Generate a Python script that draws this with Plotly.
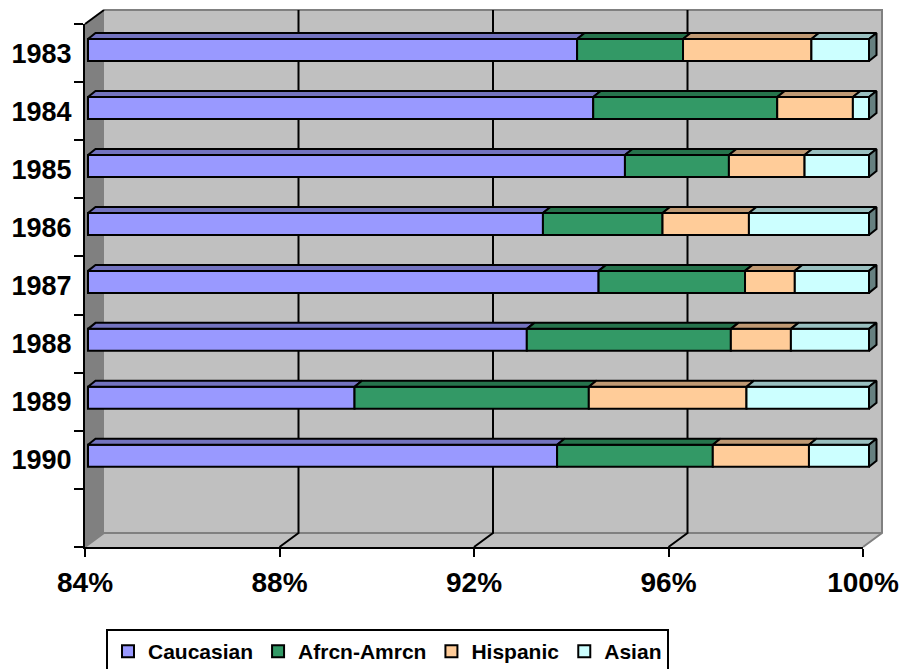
import plotly.graph_objects as go

# ---- data: share of each group per year (percent of total) ----
years = ["1983", "1984", "1985", "1986", "1987", "1988", "1989", "1990"]
caucasian = [94.02, 94.35, 95.00, 93.32, 94.46, 92.99, 89.46, 93.61]
afrcn_amrcn = [2.17, 3.77, 2.13, 2.45, 3.00, 4.18, 4.80, 3.19]
hispanic = [2.63, 1.55, 1.55, 1.77, 1.02, 1.23, 3.23, 1.97]
asian = [1.18, 0.33, 1.32, 2.46, 1.52, 1.60, 2.51, 1.23]

series_names = ["Caucasian", "Afrcn-Amrcn", "Hispanic", "Asian"]
x_ticks = [84, 88, 92, 96, 100]
x_tick_labels = ["84%", "88%", "92%", "96%", "100%"]
X_MIN, X_MAX = 84, 100

# ---- styling ----
FRONT_COLORS = ["#9999FF", "#339966", "#FFCC99", "#CCFFFF"]
TOP_COLORS = ["#7373BF", "#26734C", "#BF9973", "#99BFBF"]
SIDE_COLOR = "#668080"
WALL = "#C0C0C0"
SIDE_WALL = "#808080"
EDGE = "#808080"
FONT = "Arial, 'Liberation Sans', sans-serif"

W, H = 905, 669
# front plane of the chart box (pixels)
FL, FR, FT, FB = 85, 863, 24, 547
DEPTH_DX, DEPTH_DY = 19, 14
N_SLOTS = len(years) + 1
# bar plane
BL, BR = 88, 869
BAR_C0, BAR_STEP, BAR_H = 50, 57.97, 22
BAR_DX, BAR_DY = 7.5, 6

sx = (FR - FL) / (X_MAX - X_MIN)
sy = (FB - FT) / N_SLOTS
bx = (BR - BL) / (X_MAX - X_MIN)


def P(v, s, d):
    """Project a value/slot at depth d (0 front, 1 back) to the box axes."""
    return v + d * DEPTH_DX / sx, s - d * DEPTH_DY / sy


def poly(points):
    xs = [p[0] for p in points] + [points[0][0]]
    ys = [p[1] for p in points] + [points[0][1]]
    return xs, ys


fig = go.Figure()

# ---- walls and floor ----
walls = [
    ([P(X_MIN, 0, 0), P(X_MIN, 0, 1), P(X_MIN, N_SLOTS, 1), P(X_MIN, N_SLOTS, 0)], SIDE_WALL),
    ([P(X_MIN, 0, 1), P(X_MAX, 0, 1), P(X_MAX, N_SLOTS, 1), P(X_MIN, N_SLOTS, 1)], WALL),
    ([P(X_MIN, N_SLOTS, 0), P(X_MAX, N_SLOTS, 0), P(X_MAX, N_SLOTS, 1), P(X_MIN, N_SLOTS, 1)], WALL),
]
for pts, col in walls:
    xs, ys = poly(pts)
    fig.add_trace(go.Scatter(x=xs, y=ys, mode="lines", fill="toself", fillcolor=col,
                             line=dict(width=0, color=col), hoverinfo="skip",
                             showlegend=False, xaxis="x", yaxis="y"))


def edge(points, color, width=2):
    fig.add_trace(go.Scatter(x=[p[0] for p in points], y=[p[1] for p in points],
                             mode="lines", line=dict(color=color, width=width),
                             hoverinfo="skip", showlegend=False, xaxis="x", yaxis="y"))


# wall outlines
edge([P(X_MIN, 0, 1), P(X_MAX, 0, 1), P(X_MAX, N_SLOTS, 1), P(X_MAX, N_SLOTS, 0)], EDGE)
edge([P(X_MIN, N_SLOTS, 0), P(X_MIN, N_SLOTS, 1), P(X_MAX, N_SLOTS, 1)], EDGE)
edge([P(X_MIN, 0, 0), P(X_MIN, 0, 1)], "black")

# gridlines up the back wall and across the floor
for v in x_ticks[1:-1]:
    edge([P(v, 0, 1), P(v, N_SLOTS, 1), P(v, N_SLOTS, 0)], "black")

# ---- bars (front faces) ----
segments = [caucasian, afrcn_amrcn, hispanic, asian]
idx = list(range(len(years)))
starts = []
ends = []
for k, seg in enumerate(segments):
    if k == 0:
        s0 = [X_MIN] * len(years)
        e0 = list(seg)
    else:
        s0 = list(ends[-1])
        e0 = [a + b for a, b in zip(s0, seg)]
    starts.append(s0)
    ends.append(e0)

bar_w = BAR_H / BAR_STEP
ddx = BAR_DX / bx
ddy = BAR_DY / BAR_STEP

for k, name in enumerate(series_names):
    fig.add_trace(go.Bar(
        name=name, orientation="h", y=idx,
        x=[e - s for s, e in zip(starts[k], ends[k])], base=starts[k],
        width=bar_w, marker=dict(color=FRONT_COLORS[k], line=dict(color="black", width=2)),
        xaxis="x3", yaxis="y3", hoverinfo="skip"))

# top faces of every segment
for k in range(len(series_names)):
    for i in idx:
        x0, x1 = starts[k][i], ends[k][i]
        yt = i - bar_w / 2
        xs, ys = poly([(x0, yt), (x1, yt), (x1 + ddx, yt - ddy), (x0 + ddx, yt - ddy)])
        fig.add_trace(go.Scatter(x=xs, y=ys, mode="lines", fill="toself",
                                 fillcolor=TOP_COLORS[k], line=dict(color="black", width=2),
                                 hoverinfo="skip", showlegend=False, xaxis="x3", yaxis="y3"))

# right-hand end faces
for i in idx:
    xe = ends[-1][i]
    yt, yb = i - bar_w / 2, i + bar_w / 2
    xs, ys = poly([(xe, yt), (xe + ddx, yt - ddy), (xe + ddx, yb - ddy), (xe, yb)])
    fig.add_trace(go.Scatter(x=xs, y=ys, mode="lines", fill="toself", fillcolor=SIDE_COLOR,
                             line=dict(color="black", width=2), hoverinfo="skip",
                             showlegend=False, xaxis="x3", yaxis="y3"))

# anchor trace for the front axes
fig.add_trace(go.Scatter(x=[], y=[], xaxis="x2", yaxis="y2", showlegend=False, hoverinfo="skip"))

hidden = dict(visible=False, showgrid=False, zeroline=False, domain=[0, 1])

fig.update_layout(
    width=W, height=H,
    margin=dict(l=0, r=0, t=0, b=0, pad=0, autoexpand=False),
    paper_bgcolor="white", plot_bgcolor="rgba(0,0,0,0)",
    barmode="overlay",
    font=dict(family=FONT, color="black"),
    xaxis=dict(**hidden, range=[X_MIN - FL / sx, X_MIN + (W - FL) / sx]),
    yaxis=dict(**hidden, range=[(H - FT) / sy, -FT / sy]),
    xaxis3=dict(visible=False, showgrid=False, zeroline=False, overlaying="x",
                range=[X_MIN - BL / bx, X_MIN + (W - BL) / bx]),
    yaxis3=dict(visible=False, showgrid=False, zeroline=False, overlaying="y",
                range=[(H - BAR_C0) / BAR_STEP, -BAR_C0 / BAR_STEP]),
    xaxis2=dict(domain=[FL / W, FR / W], range=[X_MIN, X_MAX], anchor="y2",
                showgrid=False, zeroline=False, showline=True, linecolor="black", linewidth=2,
                ticks="outside", ticklen=8, tickwidth=2, tickcolor="black",
                tickvals=x_ticks, ticktext=x_tick_labels, ticklabelstandoff=1,
                tickfont=dict(size=28, weight="bold", family=FONT)),
    yaxis2=dict(domain=[(H - FB) / H, (H - FT) / H], range=[N_SLOTS, 0], anchor="x2",
                showgrid=False, zeroline=False, showline=True, linecolor="black", linewidth=2,
                ticks="", tickvals=[i + 0.5 for i in idx], ticktext=years,
                ticklabelstandoff=6,
                minor=dict(tickvals=list(range(N_SLOTS + 1)), ticks="outside", ticklen=9,
                           tickwidth=2, tickcolor="black", showgrid=False),
                tickfont=dict(size=27, weight="bold", family=FONT)),
    legend=dict(orientation="h", x=106 / W, y=(H - 629) / H, xanchor="left", yanchor="top",
                bgcolor="white", bordercolor="black", borderwidth=2,
                font=dict(size=21, weight="bold", family=FONT), traceorder="normal"),
)

fig.write_html("out.html")
